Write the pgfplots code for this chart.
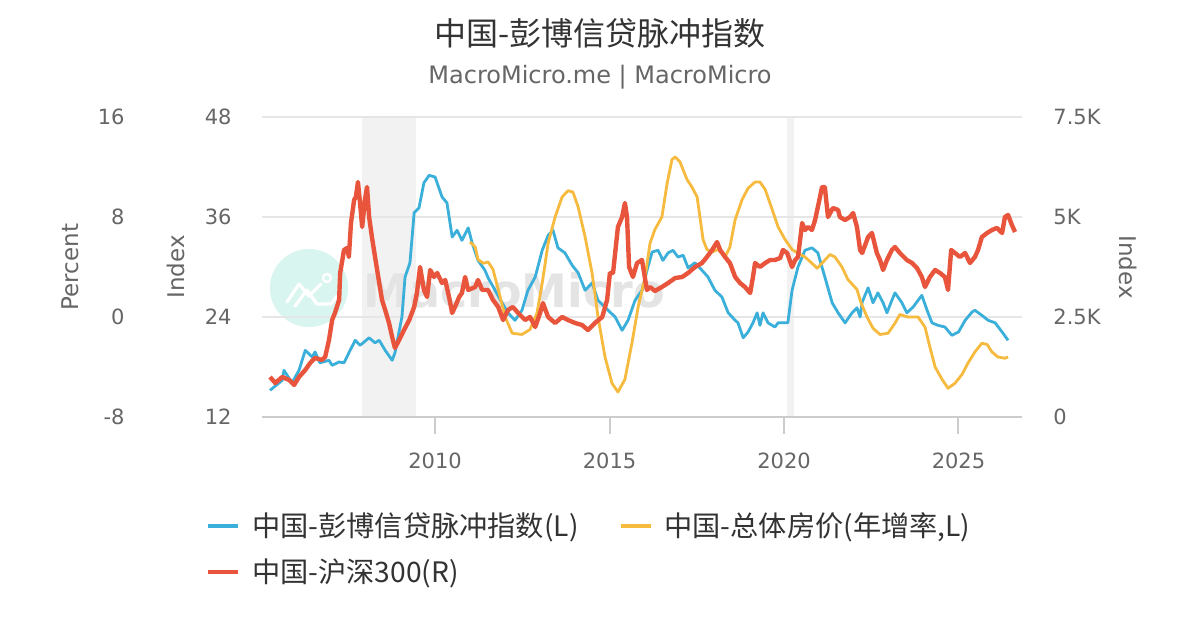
\documentclass[border=0pt]{standalone}
\usepackage{fontspec}
\setmainfont{DejaVu Sans}
\newfontfamily\cjk{Noto Sans CJK SC}
\usepackage{pgfplots}
\usetikzlibrary{calc}
\pgfplotsset{compat=1.18}
\definecolor{cblue}{HTML}{3AAFD9}
\definecolor{cyellow}{HTML}{F6BA3E}
\definecolor{cred}{HTML}{E8553C}
\definecolor{tgray}{HTML}{666666}
\definecolor{tdark}{HTML}{333333}
\definecolor{ggray}{HTML}{E6E6E6}
\definecolor{agray}{HTML}{CCCCCC}
\definecolor{bandgray}{HTML}{F2F2F2}
\definecolor{wmtext}{HTML}{E4E4E4}
\definecolor{wmcirc}{HTML}{D8F6EF}

\pgfplotstableread{
year value
2005.27 15.2
2005.62 16.4
2005.67 17.6
2005.90 16.1
2006.10 17.6
2006.28 20.0
2006.48 19.2
2006.56 19.8
2006.70 18.5
2006.96 18.8
2007.05 18.2
2007.25 18.6
2007.39 18.5
2007.53 19.7
2007.71 21.2
2007.85 20.6
2008.11 21.5
2008.28 20.9
2008.40 21.2
2008.57 20.0
2008.77 18.8
2008.85 19.7
2009.05 24.0
2009.14 28.8
2009.28 30.5
2009.40 36.5
2009.54 37.1
2009.68 40.1
2009.83 41.0
2010.00 40.8
2010.20 38.4
2010.34 37.7
2010.49 33.6
2010.63 34.4
2010.77 33.2
2010.95 34.7
2011.06 32.9
2011.23 30.8
2011.43 29.6
2011.52 28.7
2011.72 27.2
2011.92 25.7
2012.09 24.5
2012.29 23.6
2012.49 24.8
2012.66 27.2
2012.87 28.8
2013.07 32.0
2013.24 33.8
2013.38 34.4
2013.52 32.3
2013.72 31.7
2013.93 30.2
2014.10 29.3
2014.30 27.2
2014.50 28.1
2014.67 26.0
2014.96 24.8
2015.16 24.0
2015.36 22.4
2015.53 23.6
2015.73 26.0
2015.93 27.2
2016.10 30.0
2016.22 31.8
2016.39 32.0
2016.53 30.8
2016.68 31.7
2016.82 32.0
2016.96 31.2
2017.11 31.4
2017.25 29.9
2017.45 30.5
2017.65 29.6
2017.82 28.8
2018.02 27.2
2018.22 26.4
2018.40 24.5
2018.60 23.6
2018.68 23.3
2018.83 21.5
2018.97 22.2
2019.11 23.3
2019.23 24.5
2019.31 23.0
2019.40 24.5
2019.54 23.3
2019.74 22.8
2019.83 23.3
2020.11 23.3
2020.23 27.2
2020.40 30.0
2020.60 32.0
2020.80 32.3
2020.97 31.7
2021.17 28.8
2021.38 25.7
2021.55 24.5
2021.75 23.3
2021.95 24.5
2022.09 25.1
2022.18 24.0
2022.24 25.8
2022.41 27.5
2022.55 25.7
2022.69 26.9
2022.84 25.7
2022.95 24.5
2023.09 26.0
2023.18 26.9
2023.38 25.7
2023.52 24.5
2023.70 25.2
2023.95 26.6
2024.10 24.8
2024.24 23.3
2024.41 23.0
2024.61 22.8
2024.81 21.8
2025.00 22.2
2025.19 23.6
2025.39 24.6
2025.47 24.8
2025.67 24.2
2025.85 23.6
2026.05 23.3
2026.25 22.2
2026.42 21.2
}\credit

\pgfplotstableread{
year value
2011.00 6.0
2011.15 5.6
2011.23 4.6
2011.38 4.3
2011.52 4.4
2011.66 3.8
2011.81 2.2
2012.01 0.0
2012.21 -1.3
2012.49 -1.4
2012.72 -1.0
2012.92 0.3
2013.07 2.7
2013.24 5.9
2013.44 8.0
2013.64 9.6
2013.81 10.1
2013.95 10.0
2014.10 8.8
2014.30 6.4
2014.50 3.5
2014.67 0.0
2014.87 -3.2
2015.07 -5.3
2015.24 -6.0
2015.44 -5.0
2015.64 -2.1
2015.82 0.8
2016.02 3.2
2016.16 5.9
2016.30 7.0
2016.50 8.0
2016.65 10.7
2016.79 12.6
2016.88 12.8
2017.02 12.4
2017.22 11.0
2017.36 10.4
2017.51 9.6
2017.59 8.0
2017.68 6.2
2017.79 5.4
2017.94 5.2
2018.11 5.4
2018.31 4.8
2018.45 5.6
2018.60 7.8
2018.80 9.4
2018.97 10.3
2019.17 10.8
2019.31 10.8
2019.46 10.2
2019.66 8.6
2019.83 7.2
2020.03 6.2
2020.23 5.4
2020.40 5.1
2020.60 4.8
2020.80 4.3
2020.95 3.9
2021.12 4.4
2021.32 5.0
2021.46 4.8
2021.66 4.0
2021.83 3.0
2022.09 2.2
2022.21 1.1
2022.38 0.0
2022.55 -0.9
2022.75 -1.4
2022.98 -1.3
2023.18 -0.5
2023.32 0.2
2023.55 0.0
2023.84 0.0
2024.04 -0.8
2024.18 -2.4
2024.33 -4.0
2024.53 -5.0
2024.70 -5.7
2024.90 -5.3
2025.10 -4.6
2025.27 -3.7
2025.47 -2.8
2025.67 -2.1
2025.82 -2.2
2025.96 -2.8
2026.13 -3.2
2026.33 -3.3
2026.42 -3.2
}\house

\pgfplotstableread{
year value
2005.27 1000
2005.42 850
2005.62 1000
2005.82 925
2005.96 800
2006.10 1000
2006.28 1175
2006.42 1350
2006.56 1475
2006.76 1425
2006.85 1500
2006.96 1925
2007.05 2425
2007.13 2600
2007.25 2925
2007.28 3600
2007.39 4175
2007.48 4225
2007.53 4000
2007.59 4850
2007.68 5425
2007.73 5500
2007.79 5875
2007.85 5350
2007.91 4750
2007.99 5425
2008.05 5750
2008.11 5000
2008.19 4500
2008.28 4000
2008.40 3350
2008.48 2925
2008.57 2675
2008.68 2350
2008.77 2000
2008.85 1725
2008.97 1925
2009.11 2175
2009.26 2425
2009.40 2750
2009.48 3100
2009.57 3750
2009.68 3175
2009.77 3000
2009.86 3675
2009.97 3500
2010.06 3600
2010.20 3350
2010.29 3425
2010.40 3000
2010.49 2600
2010.57 2750
2010.69 3000
2010.77 3100
2010.86 3500
2010.95 3175
2011.15 3250
2011.23 3425
2011.35 3175
2011.52 3175
2011.66 2925
2011.81 2750
2011.95 2425
2012.09 2675
2012.23 2750
2012.38 2600
2012.58 2425
2012.72 2500
2012.87 2250
2013.01 2600
2013.09 2850
2013.24 2500
2013.44 2350
2013.64 2500
2013.81 2425
2014.01 2350
2014.21 2300
2014.38 2175
2014.58 2350
2014.79 2500
2014.93 2925
2015.01 3600
2015.10 3600
2015.24 4750
2015.36 5000
2015.44 5350
2015.50 5000
2015.56 3750
2015.67 3500
2015.79 3850
2015.93 3925
2016.07 3175
2016.16 3250
2016.30 3150
2016.50 3250
2016.68 3350
2016.88 3475
2017.08 3500
2017.25 3600
2017.45 3750
2017.65 3850
2017.79 4000
2017.94 4175
2018.08 4375
2018.17 4175
2018.31 4000
2018.45 3850
2018.60 3500
2018.74 3350
2018.88 3250
2019.03 3100
2019.11 3500
2019.17 3850
2019.31 3750
2019.46 3850
2019.60 3925
2019.74 3925
2019.89 3975
2019.97 4175
2020.09 4100
2020.23 3750
2020.32 3925
2020.40 4000
2020.52 4850
2020.60 4675
2020.69 4750
2020.80 4675
2020.89 4925
2020.97 5250
2021.09 5750
2021.17 5750
2021.26 5000
2021.40 5225
2021.55 5175
2021.60 5000
2021.75 4925
2021.89 5000
2021.98 5100
2022.09 4750
2022.18 4175
2022.24 4100
2022.41 4500
2022.52 4600
2022.66 4100
2022.75 3925
2022.84 3675
2022.95 3925
2023.09 4175
2023.18 4250
2023.32 4100
2023.52 3925
2023.67 3850
2023.81 3725
2023.95 3500
2024.04 3250
2024.18 3500
2024.33 3675
2024.47 3600
2024.61 3500
2024.70 3175
2024.79 4175
2024.90 4100
2025.04 4000
2025.19 4100
2025.33 3850
2025.47 4000
2025.56 4175
2025.67 4500
2025.82 4600
2025.96 4675
2026.10 4725
2026.25 4600
2026.33 5000
2026.42 5050
2026.53 4800
2026.62 4625
}\csi

\pgfplotsset{
  base/.style={
    scale only axis, width=380pt, height=150pt,
    at={(131pt,106.5pt)}, anchor=south west,
    xmin=2005.04, xmax=2026.82,
    /pgf/number format/assume math mode=true,
    tick label style={font=\fontsize{10.5}{12}\selectfont, text=tgray, inner sep=0pt},
    ytick style={draw=none},
  }
}

\begin{document}
\begin{tikzpicture}
\path[use as bounding box, fill=white] (0,0) rectangle (600pt,315pt);

% background: recession shading and watermark
\begin{axis}[base, hide axis, ymin=12, ymax=48, clip=false]
  \fill[bandgray] (axis cs:2007.90,12) rectangle (axis cs:2009.45,48);
  \fill[bandgray] (axis cs:2020.09,12) rectangle (axis cs:2020.29,48);
  \coordinate (wm) at (rel axis cs:0.0618,0.43);
  \fill[wmcirc] (wm) circle[radius=19.5pt];
  \draw[white, line width=1.6pt, line join=round, line cap=round]
    ($(wm)+(-11pt,-7pt)$) -- ++(6pt,9pt) -- ++(5pt,-6pt) -- ++(6pt,6pt);
  \draw[white, line width=1.6pt, line join=round, line cap=round]
    ($(wm)+(-7pt,-9pt)$) -- ++(6pt,8pt) -- ++(5pt,-7pt) -- ++(7pt,0pt) -- ++(3pt,4pt);
  \draw[white, line width=1.2pt] ($(wm)+(9pt,5pt)$) circle[radius=2pt];
  \node[anchor=west, inner sep=0pt, text=wmtext, font=\bfseries\fontsize{23}{26}\selectfont]
    at (rel axis cs:0.1329,0.423) {MacroMicro};
\end{axis}

% credit impulse (Index, left inner)
\begin{axis}[base,
  ymin=12, ymax=48, ytick={12,24,36,48},
  axis x line*=bottom, axis y line*=left,
  x axis line style={draw=agray, line width=1pt},
  y axis line style={draw=none},
  xtick={2010,2015,2020,2025}, xticklabels={2010,2015,2020,2025},
  xtick style={draw=agray, line width=1pt},
  tick align=outside, major tick length=8.5pt,
  ymajorgrids, grid style={ggray, line width=1pt},
  yticklabel style={anchor=east, xshift=-6.5pt},
  xticklabel style={anchor=north, yshift=-9.25pt},
  ylabel={Index},
  every axis y label/.style={at={(axis description cs:-0.1132,0.5)}, rotate=90, anchor=center,
    font=\fontsize{11.5}{13}\selectfont, text=tgray},
]
\addplot[cblue, line width=1.4pt, line join=round] table[x=year, y=value] {\credit};
\end{axis}

% house price yoy (Percent, left outer)
\begin{axis}[base,
  ymin=-8, ymax=16, ytick={-8,0,8,16},
  axis x line=none, axis y line*=left,
  y axis line style={draw=none},
  yticklabel style={anchor=east, xshift=-68.5pt},
  ylabel={Percent},
  every axis y label/.style={at={(axis description cs:-0.2526,0.5)}, rotate=90, anchor=center,
    font=\fontsize{11.5}{13}\selectfont, text=tgray},
]
\addplot[cyellow, line width=1.4pt, line join=round] table[x=year, y=value] {\house};
\end{axis}

% CSI 300 (right)
\begin{axis}[base,
  ymin=0, ymax=7500, ytick={0,2500,5000,7500}, yticklabels={0,2.5K,5K,7.5K},
  axis x line=none, axis y line*=right,
  y axis line style={draw=none},
  yticklabel style={anchor=west, xshift=15.5pt},
  ylabel={Index},
  every axis y label/.style={at={(axis description cs:1.1395,0.5)}, rotate=-90, anchor=center,
    font=\fontsize{11.5}{13}\selectfont, text=tgray},
  legend columns=2,
  legend cell align=left,
  legend image code/.code={\draw[#1, line width=2pt] (0pt,0pt) -- (15pt,0pt);},
  legend style={at={(axis description cs:-0.0737,-0.305)}, anchor=north west,
    draw=none, fill=none, inner xsep=0pt, inner ysep=0pt,
    font=\cjk\fontsize{14.1}{16}\selectfont, text=tdark,
    row sep=5.5pt,
    /tikz/every odd column/.append style={column sep=4pt},
    /tikz/every even column/.append style={column sep=18pt}},
]
\addlegendimage{cblue}
\addlegendentry{中国-彭博信贷脉冲指数(L)}
\addlegendimage{cyellow}
\addlegendentry{中国-总体房价(年增率,L)}
\addplot[cred, line width=2.2pt, line join=round] table[x=year, y=value] {\csi};
\addlegendentry{中国-沪深300(R)}
\end{axis}

\node[font=\cjk\fontsize{16}{19}\selectfont, text=tdark] at (300pt,298.5pt) {中国-彭博信贷脉冲指数};
\node[font=\fontsize{12}{14}\selectfont, text=tgray] at (300pt,276.5pt) {MacroMicro.me | MacroMicro};
\end{tikzpicture}
\end{document}
